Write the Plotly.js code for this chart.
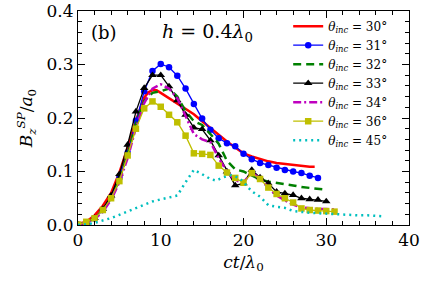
<!DOCTYPE html>
<html><head><meta charset="utf-8">
<script src="https://cdn.plot.ly/plotly-3.0.1.min.js"></script>
<style>html,body{margin:0;padding:0;background:#fff;}#plot{width:436px;height:285px;}</style>
</head><body><div id="plot"></div>
<script>
// theta = 30 deg (red solid)
const x30 = [0,1,2,3,4,5,6,7,8,8.5,9,9.5,10,11,12,13,14,15,16,17,18,19,20,21,22,23,24,25,26,27,28,28.6];
const y30 = [0.002,0.006,0.018,0.036,0.06,0.098,0.145,0.195,0.238,0.248,0.252,0.252,0.247,0.237,0.226,0.216,0.207,0.194,0.181,0.168,0.156,0.145,0.134,0.128,0.123,0.119,0.116,0.114,0.112,0.110,0.109,0.109];
// theta = 31 deg (blue circles)
const x31 = [0,1,2,3,4,5,6,7,8,9,10,11,12,13,14,15,16,17,18,19,20,21,22,23,24,25,26,27,28,29];
const y31 = [0.001,0.004,0.012,0.028,0.052,0.088,0.135,0.195,0.25,0.288,0.301,0.295,0.279,0.255,0.226,0.199,0.178,0.162,0.153,0.147,0.133,0.123,0.116,0.112,0.107,0.103,0.1,0.097,0.092,0.088];
// theta = 32 deg (green dashed)
const x32 = [0,1,2,3,4,5,6,7,8,9,10,11,12,13,14,15,16,17,18,19,20,21,22,23,24,25,26,27,28,29,30];
const y32 = [0.001,0.004,0.012,0.028,0.05,0.085,0.132,0.19,0.232,0.247,0.25,0.255,0.24,0.213,0.194,0.187,0.17,0.152,0.12,0.104,0.1,0.093,0.085,0.081,0.079,0.076,0.074,0.071,0.069,0.068,0.066];
// theta = 33 deg (black triangles)
const x33 = [0,1,2,3,4,5,6,7,8,9,10,11,12,13,14,15,16,17,18,19,20,21,22,23,24,25,26,27,28,29,30];
const y33 = [0.001,0.004,0.013,0.03,0.055,0.095,0.15,0.212,0.256,0.28,0.28,0.259,0.233,0.206,0.182,0.179,0.158,0.13,0.10,0.074,0.078,0.103,0.089,0.078,0.062,0.059,0.056,0.05,0.048,0.047,0.044];
// theta = 34 deg (magenta dash-dot)
const x34 = [0,1,2,3,4,5,6,7,8,9,10,11,12,13,14,15,16,17,18,19,20,21,22,23,24,25,26,27,28,29,30,31];
const y34 = [0.001,0.004,0.011,0.025,0.047,0.08,0.125,0.182,0.228,0.255,0.263,0.255,0.237,0.205,0.17,0.16,0.155,0.125,0.1,0.083,0.08,0.098,0.087,0.07,0.055,0.046,0.038,0.033,0.031,0.03,0.03,0.029];
// theta = 36 deg (olive squares)
const x36 = [0,1,2,3,4,5,6,7,8,9,10,11,12,13,14,15,16,17,18,19,20,21,22,23,24,25,26,27,28,29,30,31];
const y36 = [0.001,0.006,0.0125,0.028,0.05,0.082,0.13,0.18,0.218,0.231,0.221,0.206,0.192,0.167,0.134,0.133,0.131,0.111,0.098,0.088,0.079,0.097,0.086,0.07,0.058,0.05,0.042,0.031,0.028,0.027,0.026,0.025];
// theta = 45 deg (cyan dotted)
const x45 = [0,1,2,3,4,5,6,7,8,9,10,11,12,13,14,15,16,16.7,17.5,18.5,19.5,20,21,22,23,24,25,26,27,28,29,30,31,32,33,34,35,36,37];
const y45 = [0.0,0.001,0.004,0.008,0.013,0.019,0.025,0.031,0.038,0.044,0.048,0.051,0.055,0.08,0.103,0.095,0.086,0.083,0.089,0.093,0.088,0.08,0.063,0.053,0.037,0.034,0.032,0.026,0.024,0.023,0.022,0.021,0.02,0.019,0.019,0.018,0.018,0.017,0.016];

const xTicks = [0,10,20,30,40];
const yTicks = [0.0,0.1,0.2,0.3,0.4];
const yTickText = ['0.0','0.1','0.2','0.3','0.4'];
const angles = [30,31,32,33,34,36,45];

const F = 'DejaVu Serif';
const lbl = a => '<i>θ</i><sub><i>inc</i></sub> = ' + a + '°';

const traces = [
  {x:x30,y:y30,mode:'lines',line:{color:'#ff0000',width:2.5},name:lbl(angles[0])},
  {x:x31,y:y31,mode:'lines+markers',line:{color:'#0000ff',width:1.3},marker:{symbol:'circle',size:6.5,color:'#0000ff'},name:lbl(angles[1])},
  {x:x32,y:y32,mode:'lines',line:{color:'#008000',width:2.5,dash:'8px,5px'},name:lbl(angles[2])},
  {x:x33,y:y33,mode:'lines+markers',line:{color:'#000000',width:1.3},marker:{symbol:'triangle-up',size:7.5,color:'#000000'},name:lbl(angles[3])},
  {x:x34,y:y34,mode:'lines',line:{color:'#bf00bf',width:2.5,dash:'8px,3px,2px,3px'},name:lbl(angles[4])},
  {x:x36,y:y36,mode:'lines+markers',line:{color:'#bfbf00',width:1.3},marker:{symbol:'square',size:6.5,color:'#bfbf00'},name:lbl(angles[5])},
  {x:x45,y:y45,mode:'lines',line:{color:'#00bfbf',width:2.5,dash:'2px,4px'},name:lbl(angles[6])}
];

const axisCommon = {
  showgrid:false, zeroline:false, showline:true, linecolor:'#000', linewidth:1,
  ticks:'inside', ticklen:7, tickcolor:'#000', tickwidth:1,
  tickfont:{family:F,size:17,color:'#000'}
};

const layout = {
  width:436, height:285,
  margin:{l:78,r:27,t:11,b:60},
  paper_bgcolor:'#fff', plot_bgcolor:'#fff',
  font:{family:F},
  showlegend:true,
  legend:{x:0.635,y:0.997,xanchor:'left',yanchor:'top',bgcolor:'rgba(0,0,0,0)',borderwidth:0,
    font:{family:F,size:12,color:'#000'},tracegroupgap:0,itemwidth:30},
  xaxis:Object.assign({},axisCommon,{range:[0,40],tickvals:xTicks,ticktext:xTicks.map(String),
    minor:{dtick:2,ticks:'inside',ticklen:4,tickcolor:'#000'},
    title:{text:'<i>ct</i>/<i>λ</i><sub>0</sub>',font:{family:F,size:17,color:'#000'},standoff:6}}),
  yaxis:Object.assign({},axisCommon,{range:[0,0.4],tickvals:yTicks,ticktext:yTickText,
    minor:{dtick:0.02,ticks:'inside',ticklen:4,tickcolor:'#000'},
    title:{text:'<i>B</i><sub><i>z</i></sub><sup><i>SP</i></sup>/<i>a</i><sub>0</sub>',font:{family:F,size:17,color:'#000'},standoff:9}}),
  xaxis2:Object.assign({},axisCommon,{overlaying:'x',side:'top',matches:'x',range:[0,40],tickvals:xTicks,showticklabels:false,
    minor:{dtick:2,ticks:'inside',ticklen:4,tickcolor:'#000'}}),
  yaxis2:Object.assign({},axisCommon,{overlaying:'y',side:'right',matches:'y',range:[0,0.4],tickvals:yTicks,showticklabels:false,
    minor:{dtick:0.02,ticks:'inside',ticklen:4,tickcolor:'#000'}}),
  annotations:[
    {xref:'paper',yref:'paper',x:0.078,y:0.9,xanchor:'center',yanchor:'middle',showarrow:false,
     text:'(b)',font:{family:F,size:18,color:'#000'}},
    {xref:'paper',yref:'paper',x:0.39,y:0.9,xanchor:'center',yanchor:'middle',showarrow:false,
     text:'<i>h</i> = 0.4<i>λ</i><sub>0</sub>',font:{family:F,size:19,color:'#000'}}
  ]
};

// invisible helper trace to activate the mirrored axes
traces.push({x:[0],y:[0],xaxis:'x2',yaxis:'y2',mode:'markers',marker:{opacity:0},showlegend:false,hoverinfo:'skip'});

Plotly.newPlot('plot',traces,layout,{displayModeBar:false,staticPlot:true});
</script></body></html>
